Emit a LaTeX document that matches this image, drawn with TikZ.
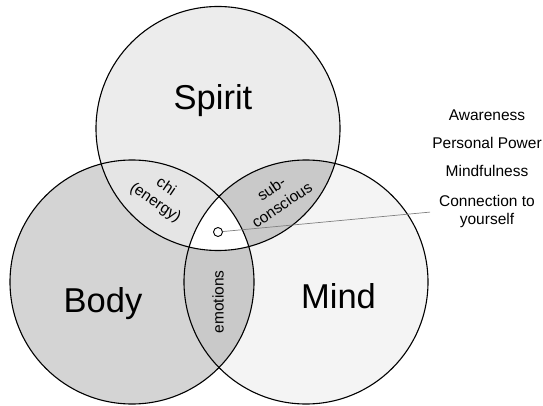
\documentclass[tikz,border=0pt]{standalone}
\usepackage{fontspec}
\setmainfont{Liberation Sans}
\usepackage{xcolor}
\usepackage{tikz}
\usetikzlibrary{positioning}

\definecolor{spiritfill}{gray}{0.925}
\definecolor{bodyfill}{gray}{0.83}
\definecolor{mindfill}{gray}{0.955}
\definecolor{chifill}{gray}{0.90}
\definecolor{lensfill}{gray}{0.79}

\begin{document}
\begin{tikzpicture}[x=1pt,y=1pt,
  ring/.style={draw, line width=1.1pt},
  big/.style={font=\fontsize{34.5}{40}\selectfont, anchor=base},
  lens/.style={font=\fontsize{15.5}{19}\selectfont, align=center, inner sep=0pt},
  side/.style={font=\fontsize{15.5}{17.5}\selectfont, align=center, inner sep=0pt},
  pointer/.style={draw=gray, line width=0.7pt, shorten >=9pt}
]
\useasboundingbox (0,0) rectangle (543,-406);
% Circle centres and radius
\def\r{122}
\coordinate (cS) at (218,-128.5);
\coordinate (cB) at (132,-282);
\coordinate (cM) at (306,-282);

% Circle fills
\fill[spiritfill] (cS) circle (\r);
\fill[bodyfill] (cB) circle (\r);
\fill[mindfill] (cM) circle (\r);

% Overlaps
\begin{scope}
  \clip (cB) circle (\r);
  \fill[lensfill] (cM) circle (\r);
\end{scope}
\begin{scope}
  \clip (cS) circle (\r);
  \fill[chifill] (cB) circle (\r);
  \fill[lensfill] (cM) circle (\r);
  \clip (cB) circle (\r);
  \fill[white] (cM) circle (\r);
\end{scope}

% Outlines
\foreach \c in {cS,cB,cM}
  \draw[ring] (\c) circle (\r);

% Circle names
\node[big] (spirit) at (213,-110) {Spirit};
\node[big] (body) at (103,-312) {Body};
\node[big] (mind) at (338.5,-308) {Mind};

% Overlap names
\node[lens, rotate=-34] (chi) at (160.5,-195) {chi\\(energy)};
\node[lens, rotate=34] (subc) at (276.5,-196.7) {sub-\\conscious};
\node[lens, rotate=90] (emo) at (218,-302) {emotions};

% Centre and its list
\node[draw, circle, fill=white, line width=0.9pt, minimum size=9pt, inner sep=0pt] (dot) at (218,-232) {};
\node[side, anchor=base] (aware) at (487,-120.5) {Awareness};
\node[side, anchor=base] (power) at (487,-148.5) {Personal Power};
\node[side, anchor=base] (mindful) at (487,-177) {Mindfulness};
\node[side] (conn) at (487,-211.25) {Connection to\\yourself};
\draw[pointer] (dot) -- (conn.west);
\end{tikzpicture}
\end{document}
